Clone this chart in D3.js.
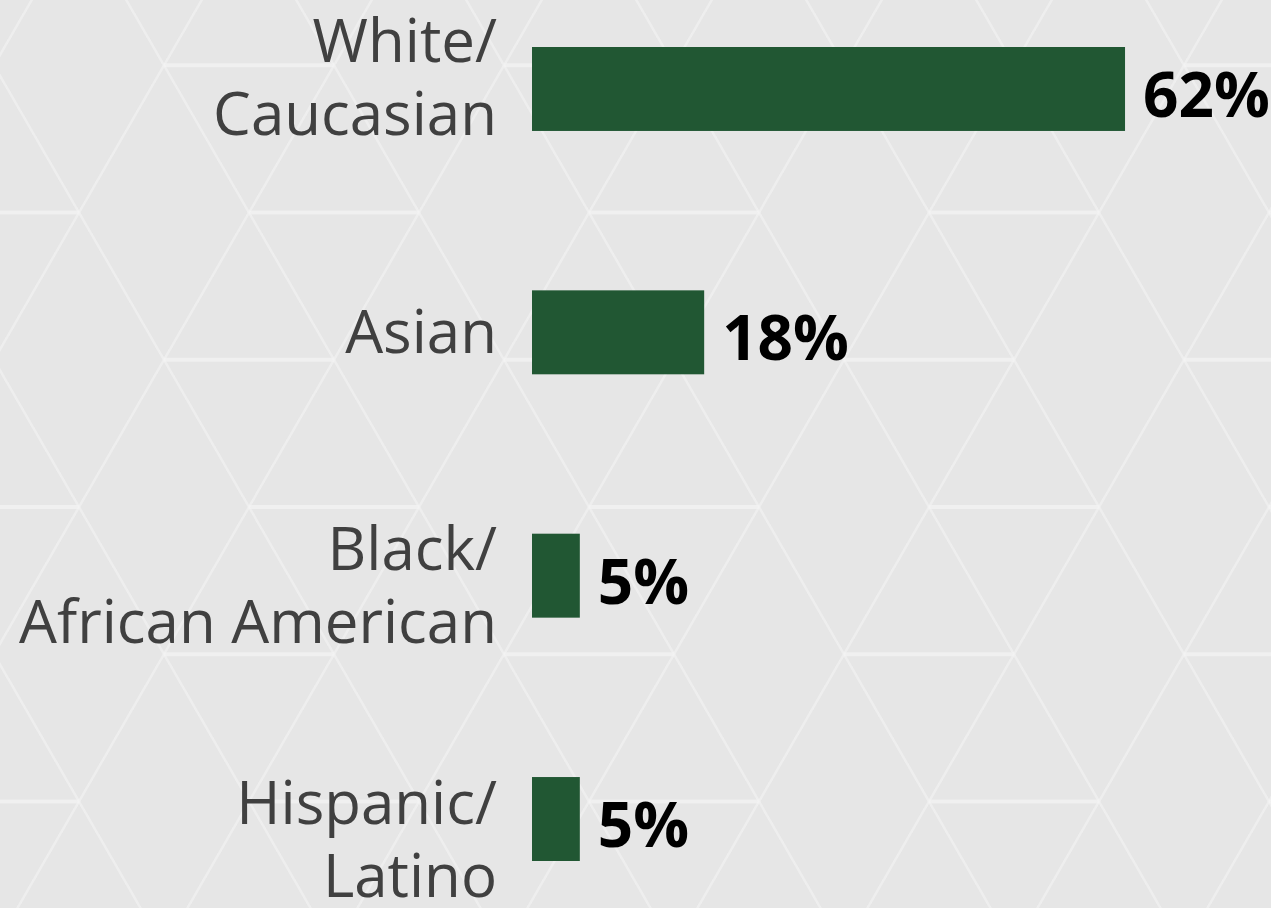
<!DOCTYPE html>
<html>
<head>
<meta charset="utf-8">
<script src="https://cdn.jsdelivr.net/npm/d3@7"></script>
<style>
  html, body { margin: 0; padding: 0; background: #e6e6e6; }
  #app { width: 1271px; height: 908px; overflow: hidden; }
</style>
</head>
<body>
<div id="app"></div>
<script>
// data
const categories = ["White/Caucasian", "Asian", "Black/African American", "Hispanic/Latino"];
const labelLines = [["White/", "Caucasian"], ["Asian"], ["Black/", "African American"], ["Hispanic/", "Latino"]];
const values = [62, 18, 5, 5];
const valueLabels = ["62%", "18%", "5%", "5%"];

const w = 1271;
const h = 908;

const svg = d3.select("#app").append("svg").attr("width", w).attr("height", h);

svg.append("rect").attr("width", w).attr("height", h).attr("fill", "#e6e6e6");

// faint hex/triangle background pattern
const bg = svg.append("g").attr("stroke", "#f3f3f3").attr("fill", "none");
const side = 170;
const tri = side * Math.sqrt(3) / 2;
const y0 = 507;
const x0 = 589;
const rows = d3.range(-4, 4);
rows.forEach((r) => {
  const y = y0 + r * tri;
  const start = (r % 2 === 0 ? 249 : 164) - 340;
  for (let x = start; x < w + 340; x += 340) {
    bg.append("line")
      .attr("x1", x).attr("x2", x + side)
      .attr("y1", y).attr("y2", y)
      .attr("stroke-width", 4)
      .attr("opacity", 0.75);
  }
});
const dx = (h + 300) * (side / 2) / tri;
for (let k = -12; k < 14; k++) {
  const x = x0 + k * side;
  // down-right and down-left families through the row at y0
  [1, -1].forEach((dir) => {
    const xt = x - dir * (y0 + 150) * (side / 2) / tri;
    bg.append("line")
      .attr("x1", xt).attr("y1", -150)
      .attr("x2", xt + dir * dx).attr("y2", h + 150)
      .attr("stroke-width", 2.5)
      .attr("opacity", 0.6);
  });
}

// scales
const xScale = d3.scaleLinear().domain([0, 100]).range([532, 532 + 956.5]);
const yScale = d3.scaleBand().domain(categories).range([47, 861]).paddingInner(0.655).paddingOuter(0);
const labelY = d3.scalePoint().domain(categories).range([77, 839]);

// bars
svg.selectAll("rect.bar")
  .data(categories)
  .join("rect")
  .attr("class", "bar")
  .attr("x", xScale(0))
  .attr("y", (d) => yScale(d))
  .attr("width", (d, i) => xScale(values[i]) - xScale(0))
  .attr("height", yScale.bandwidth())
  .attr("fill", "#215733");

// value labels
svg.selectAll("text.value")
  .data(categories)
  .join("text")
  .attr("class", "value")
  .attr("x", (d, i) => xScale(values[i]) + 18)
  .attr("y", (d) => yScale(d) + yScale.bandwidth() / 2 + 28)
  .attr("font-family", "'Open Sans', sans-serif")
  .attr("font-weight", 700)
  .attr("font-size", 62)
  .attr("fill", "#000")
  .text((d, i) => valueLabels[i]);

// category labels
const capH = 43;
const lineH = 73;
const labels = svg.selectAll("text.cat")
  .data(categories)
  .join("text")
  .attr("class", "cat")
  .attr("text-anchor", "end")
  .attr("font-family", "'Open Sans', sans-serif")
  .attr("font-size", 60)
  .attr("fill", "#404040");

labels.each(function (d, i) {
  const lines = labelLines[i];
  const top = labelY(d) - (capH + (lines.length - 1) * lineH) / 2;
  d3.select(this)
    .selectAll("tspan")
    .data(lines)
    .join("tspan")
    .attr("x", 497)
    .attr("y", (l, j) => top + capH + j * lineH)
    .text((l) => l);
});
</script>
</body>
</html>
